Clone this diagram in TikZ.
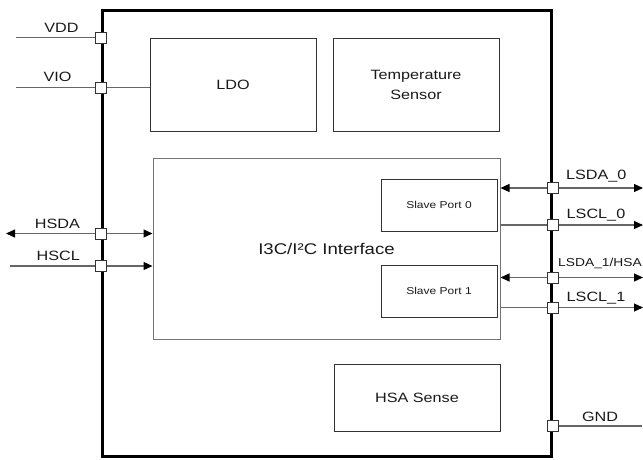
\documentclass[tikz,border=0pt]{standalone}
\usepackage{fontspec}
\setmainfont{Liberation Sans}[FakeStretch=1.2]
\usetikzlibrary{arrows.meta}
\begin{document}
\begin{tikzpicture}[x=1pt,y=-1pt,
  blk/.style={draw=black!80, line width=1pt, inner sep=0, font=\fontsize{13.5}{20}\selectfont, text=black!90, align=center},
  chipbox/.style={draw=black, line width=3pt, inner sep=0},
  pinbox/.style={draw=black!80, fill=white, minimum size=11pt, inner sep=0, line width=0.8pt},
  wire/.style={draw=black!60, line width=1.1pt},
  tipR/.style={-{Triangle[length=9pt,width=8pt,color=black]}},
  tipLR/.style={{Triangle[length=9pt,width=8pt,color=black]}-{Triangle[length=9pt,width=8pt,color=black]}},
  lbl/.style={font=\fontsize{13.5}{16}\selectfont, text=black!90, inner sep=0, anchor=base}]
\clip (0,0) rectangle (643,459);
% blocks
\node[chipbox, minimum width=449pt, minimum height=446.5pt] (chip) at (326.5,233.25) {};
\node[blk, minimum width=166pt, minimum height=93pt] (ldo) at (233,84.5) {LDO};
\node[blk, minimum width=166pt, minimum height=93pt] (temp) at (416,84.5) {Temperature\\Sensor};
\node[blk, draw=black!55, minimum width=347pt, minimum height=181pt, font=\fontsize{15.5}{18}\selectfont] (i3c) at (326.5,248.5) {I3C/I²C Interface};
\node[blk, minimum width=116pt, minimum height=52pt, font=\fontsize{10}{12}\selectfont] (sp0) at (439,205) {Slave Port 0};
\node[blk, minimum width=116pt, minimum height=52pt, font=\fontsize{10}{12}\selectfont] (sp1) at (439,291) {Slave Port 1};
\node[blk, minimum width=166pt, minimum height=67pt] (hsa) at (417,397.5) {HSA Sense};
% free ends
\coordinate (eVDD) at (16,37.5);
\coordinate (eVIO) at (16,87.5);
\coordinate (eHSDA) at (6,233.5);
\coordinate (eHSCL) at (10,266);
\coordinate (eLSDA0) at (643,188);
\coordinate (eLSCL0) at (643,225);
\coordinate (eLSDA1) at (643,277.5);
\coordinate (eLSCL1) at (643,307.5);
\coordinate (eGND) at (642,426);
% connectors
\draw[wire] (eVDD) -- (102,37.5);
\draw[wire] (eVIO) -- (eVIO -| ldo.west);
\draw[wire, tipLR] (eHSDA) -- (eHSDA -| i3c.west);
\draw[wire, tipR] (eHSCL) -- (eHSCL -| i3c.west);
\draw[wire, tipLR] (eLSDA0 -| i3c.east) -- (eLSDA0);
\draw[wire, tipR] (eLSCL0 -| i3c.east) -- (eLSCL0);
\draw[wire, tipLR] (eLSDA1 -| i3c.east) -- (eLSDA1);
\draw[wire, tipR] (eLSCL1 -| i3c.east) -- (eLSCL1);
\draw[wire] (551,426) -- (eGND);
% pins
\node[pinbox] (pVDD) at (eVDD -| chip.west) {};
\node[pinbox] (pVIO) at (eVIO -| chip.west) {};
\node[pinbox] (pHSDA) at (eHSDA -| chip.west) {};
\node[pinbox] (pHSCL) at (eHSCL -| chip.west) {};
\node[pinbox] (pLSDA0) at (eLSDA0 -| chip.east) {};
\node[pinbox] (pLSCL0) at (eLSCL0 -| chip.east) {};
\node[pinbox] (pLSDA1) at (eLSDA1 -| chip.east) {};
\node[pinbox] (pLSCL1) at (eLSCL1 -| chip.east) {};
\node[pinbox] (pGND) at (eGND -| chip.east) {};
% labels
\node[lbl] (tVDD) at (61.5,32) {VDD};
\node[lbl] (tVIO) at (57.5,81.7) {VIO};
\node[lbl] (tHSDA) at (57.5,228.3) {HSDA};
\node[lbl] (tHSCL) at (58.3,260) {HSCL};
\node[lbl] (tLSDA0) at (596.3,179.3) {LSDA\_0};
\node[lbl] (tLSCL0) at (596,218.3) {LSCL\_0};
\node[lbl, anchor=base west, font=\fontsize{11.5}{14}\selectfont] (tLSDA1) at (558,266.7) {LSDA\_1/HSA};
\node[lbl] (tLSCL1) at (596,301) {LSCL\_1};
\node[lbl] (tGND) at (600,421) {GND};
\end{tikzpicture}
\end{document}
